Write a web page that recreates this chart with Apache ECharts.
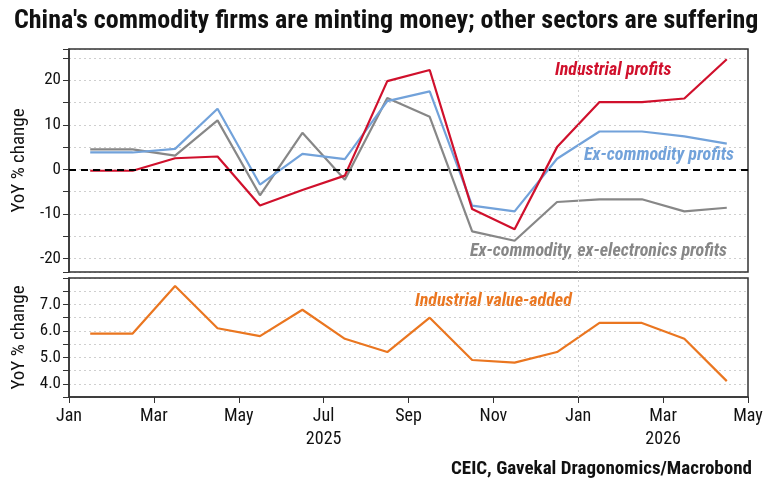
<!DOCTYPE html>
<html>
<head>
<meta charset="utf-8">
<script src="https://cdn.jsdelivr.net/npm/echarts@6/dist/echarts.min.js"></script>
<style>
html,body{margin:0;padding:0;background:#fff;}
#chart{width:768px;height:495px;}
</style>
</head>
<body>
<div id="chart"></div>
<script>
// Monthly observations, Jan 2025 .. Apr 2026
var months = ['2025-01','2025-02','2025-03','2025-04','2025-05','2025-06','2025-07','2025-08','2025-09','2025-10','2025-11','2025-12','2026-01','2026-02','2026-03','2026-04'];
var industrialProfits = [-0.3, -0.3, 2.5, 2.9, -8.1, -4.6, -1.4, 19.8, 22.3, -8.9, -13.4, 5.0, 15.1, 15.1, 15.9, 24.7];
var exCommodity = [3.8, 3.8, 4.6, 13.6, -3.4, 3.5, 2.3, 15.3, 17.5, -8.1, -9.4, 2.4, 8.5, 8.5, 7.4, 5.8];
var exCommodityExElectronics = [4.5, 4.5, 3.1, 11.0, -5.8, 8.2, -2.3, 16.0, 11.8, -13.9, -16.0, -7.3, -6.7, -6.7, -9.4, -8.6];
var valueAdded = [5.9, 5.9, 7.7, 6.1, 5.8, 6.8, 5.7, 5.2, 6.5, 4.9, 4.8, 5.2, 6.3, 6.3, 5.7, 4.1];
var monthTicks = ['Jan','Mar','May','Jul','Sep','Nov','Jan','Mar','May'];
var yearTicks = ['', '', '', '2025', '', '', '', '2026', ''];

function pts(vals){ return vals.map(function(v,i){ return [i + 0.5, v]; }); }

var FONT = "'Liberation Sans Narrow','Arial Narrow','Roboto Condensed','Liberation Sans',sans-serif";
var chart = echarts.init(document.getElementById('chart'));

var gridLine = {show:true, lineStyle:{color:'#cfcfcf', type:[2,3], width:1}};
var vline = {silent:true, symbol:'none', label:{show:false},
  lineStyle:{color:'#cfcfcf', type:[2,3], width:1}, data:[{xAxis:12}]};

var option = {
  animation:false,
  backgroundColor:'#fff',
  textStyle:{fontFamily:FONT},
  title:{
    text:"China's commodity firms are minting money; other sectors are suffering",
    left:9, top:3,
    textStyle:{fontFamily:FONT, fontWeight:'bold', fontSize:26, color:'#111'}
  },
  grid:[
    {left:69, right:20, top:49, height:223, show:true, z:5, borderColor:'#333', borderWidth:1.5, backgroundColor:'transparent'},
    {left:69, right:20, top:278, height:119, show:true, z:5, borderColor:'#333', borderWidth:1.5, backgroundColor:'transparent'}
  ],
  xAxis:[
    {type:'value', gridIndex:0, min:0, max:16, interval:2,
     axisLine:{show:false}, axisTick:{show:false}, axisLabel:{show:false}, splitLine:{show:false}},
    {type:'value', gridIndex:1, min:0, max:16, interval:2,
     axisLine:{show:true, lineStyle:{color:'#333', width:1.5}},
     axisTick:{show:true, length:6, lineStyle:{color:'#333', width:1}},
     splitLine:{show:false},
     axisLabel:{show:true, margin:8, color:'#111', fontSize:18, fontFamily:FONT, lineHeight:23,
       formatter:function(v){ var i = Math.round(v/2); var s = monthTicks[i]; if (yearTicks[i]) s += '\n' + yearTicks[i]; return s; }}}
  ],
  yAxis:[
    {type:'value', gridIndex:0, min:-23, max:27, splitNumber:10,
     name:'YoY % change', nameLocation:'middle', nameGap:37, nameRotate:90,
     nameTextStyle:{fontSize:19, color:'#111', fontFamily:FONT},
     axisLine:{show:true, lineStyle:{color:'#333', width:1.5}},
     axisTick:{show:true, length:6, lineStyle:{color:'#333', width:1}},
     splitLine:gridLine,
     axisLabel:{margin:8, color:'#111', fontSize:17, fontFamily:FONT,
       formatter:function(v){ return (Math.abs(v % 10) < 1e-9) ? String(v) : ''; }}},
    {type:'value', gridIndex:1, min:3.5, max:8, interval:0.5,
     name:'YoY % change', nameLocation:'middle', nameGap:37, nameRotate:90,
     nameTextStyle:{fontSize:19, color:'#111', fontFamily:FONT},
     axisLine:{show:true, lineStyle:{color:'#333', width:1.5}},
     axisTick:{show:true, length:6, lineStyle:{color:'#333', width:1}},
     splitLine:gridLine,
     axisLabel:{margin:8, color:'#111', fontSize:17, fontFamily:FONT,
       formatter:function(v){ return (Math.abs(v - Math.round(v)) < 1e-9 && v < 8) ? v.toFixed(1) : ''; }}}
  ],
  series:[
    {name:'Ex-commodity, ex-electronics profits', type:'line', xAxisIndex:0, yAxisIndex:0,
     data:pts(exCommodityExElectronics), symbol:'none', lineStyle:{color:'#878787', width:2.2},
     markLine:{silent:true, symbol:'none', label:{show:false},
       lineStyle:{color:'#000', type:[7,5], width:2}, data:[{yAxis:0}]}},
    {name:'Ex-commodity profits', type:'line', xAxisIndex:0, yAxisIndex:0,
     data:pts(exCommodity), symbol:'none', lineStyle:{color:'#72a2da', width:2.2},
     markLine:vline},
    {name:'Industrial profits', type:'line', xAxisIndex:0, yAxisIndex:0,
     data:pts(industrialProfits), symbol:'none', lineStyle:{color:'#d0102c', width:2.2}},
    {name:'Industrial value-added', type:'line', xAxisIndex:1, yAxisIndex:1,
     data:pts(valueAdded), symbol:'none', lineStyle:{color:'#ea7620', width:2.2},
     markLine:vline}
  ],
  graphic:[
    {type:'text', left:555, top:61, style:{text:'Industrial profits', fill:'#d0102c', font:"italic bold 18px " + FONT}},
    {type:'text', left:584, top:146, style:{text:'Ex-commodity profits', fill:'#72a2da', font:"italic bold 18px " + FONT}},
    {type:'text', left:470, top:242, style:{text:'Ex-commodity, ex-electronics profits', fill:'#878787', font:"italic bold 18px " + FONT}},
    {type:'text', left:415, top:292, style:{text:'Industrial value-added', fill:'#ea7620', font:"italic bold 18px " + FONT}},
    {type:'text', right:16, top:460, style:{text:'CEIC, Gavekal Dragonomics/Macrobond', fill:'#111', font:"bold 19px " + FONT}}
  ]
};
chart.setOption(option);
</script>
</body>
</html>
